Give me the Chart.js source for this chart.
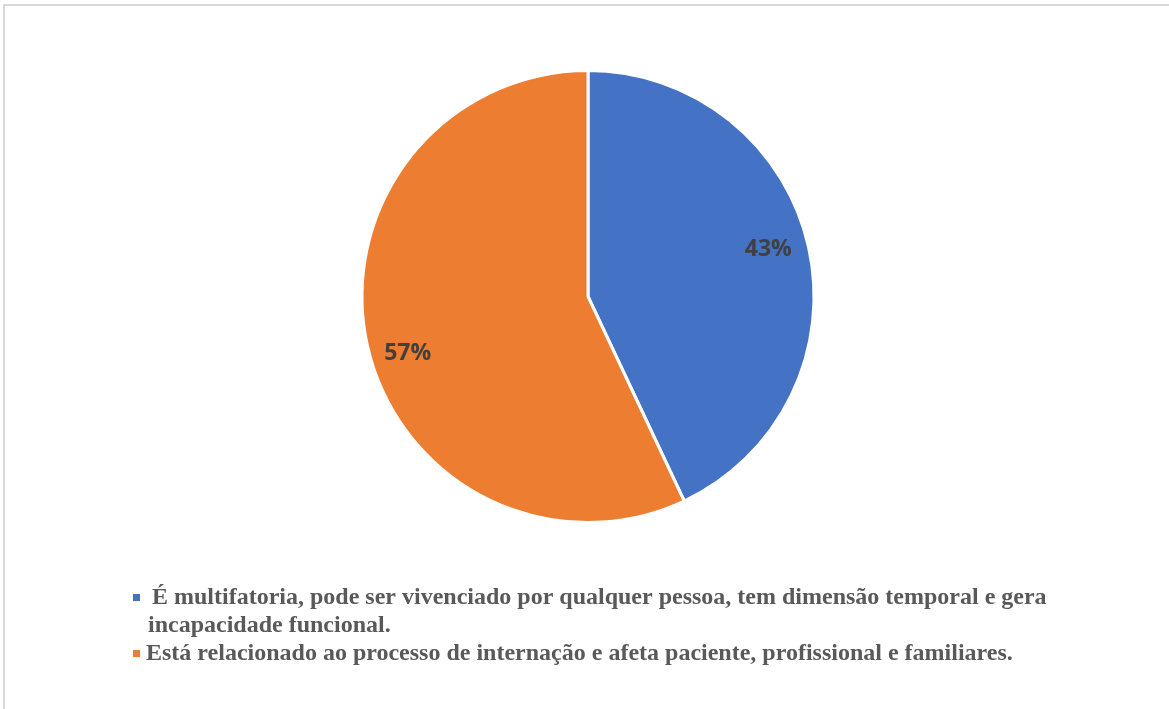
<!DOCTYPE html>
<html>
<head>
<meta charset="utf-8">
<script src="https://cdn.jsdelivr.net/npm/chart.js@4"></script>
<style>
  html, body { margin: 0; padding: 0; background: #fff; }
  #wrap { position: absolute; left: 0; top: 0; width: 1169px; height: 709px; }
  #frame { position: absolute; left: 3px; top: 4px; width: 1170px; height: 710px;
           border-left: 2px solid #d9d9d9; border-top: 2px solid #d9d9d9; }
</style>
</head>
<body>
<div id="wrap">
  <div id="frame"></div>
  <canvas id="pieChart" width="1169" height="709"></canvas>
</div>
<script>
// categories (legend text, second element = wrapped line)
const categories = [
    [' É multifatoria, pode ser vivenciado por qualquer pessoa, tem dimensão temporal e gera', 'incapacidade funcional.'],
    ['Está relacionado ao processo de internação e afeta paciente, profissional e familiares.']
];
const values = [43, 57];
const colors = ['#4472C4', '#ED7D31'];

// percentage labels inside slices
const sliceLabels = {
    id: 'sliceLabels',
    afterDatasetsDraw(chart) {
        const ctx = chart.ctx;
        const meta = chart.getDatasetMeta(0);
        const total = values.reduce((a, b) => a + b, 0);
        ctx.save();
        ctx.font = 'bold 23px "Open Sans", sans-serif';
        ctx.fillStyle = '#404040';
        ctx.textAlign = 'center';
        ctx.textBaseline = 'middle';
        meta.data.forEach((arc, i) => {
            // excel nudges labels a bit counter-clockwise
            const mid = (arc.startAngle + arc.endAngle) / 2 - 0.06;
            const r = arc.outerRadius * 0.83;
            const pct = Math.round(values[i] / total * 100) + '%';
            ctx.fillText(pct, arc.x + Math.cos(mid) * r, arc.y + Math.sin(mid) * r + 5);
        });
        ctx.restore();
    }
};

// legend below the pie, with wrapped first item
const bottomLegend = {
    id: 'bottomLegend',
    afterDraw(chart) {
        const ctx = chart.ctx;
        ctx.save();
        ctx.font = 'bold 24px "Liberation Serif", "Times New Roman", serif';
        ctx.textBaseline = 'middle';
        let y = 598;
        categories.forEach((lines, i) => {
            ctx.fillStyle = colors[i];
            ctx.fillRect(133, y - 4, 7, 7);
            ctx.fillStyle = '#595959';
            lines.forEach((t, j) => {
                ctx.fillText(t, j === 0 ? 146 : 148, y);
                y += 28;
            });
        });
        ctx.restore();
    }
};

const ctx = document.getElementById('pieChart').getContext('2d');
const pieChart = new Chart(ctx, {
    type: 'pie',
    data: {
        labels: categories.map(c => c.join(' ')),
        datasets: [{
            data: values,
            backgroundColor: colors,
            borderColor: '#ffffff',
            borderWidth: 3
        }]
    },
    options: {
        responsive: false,
        animation: false,
        layout: { padding: { top: 69, bottom: 185, left: 7, right: 0 } },
        plugins: {
            legend: { display: false },
            tooltip: { enabled: false }
        }
    },
    plugins: [sliceLabels, bottomLegend]
});
</script>
</body>
</html>
